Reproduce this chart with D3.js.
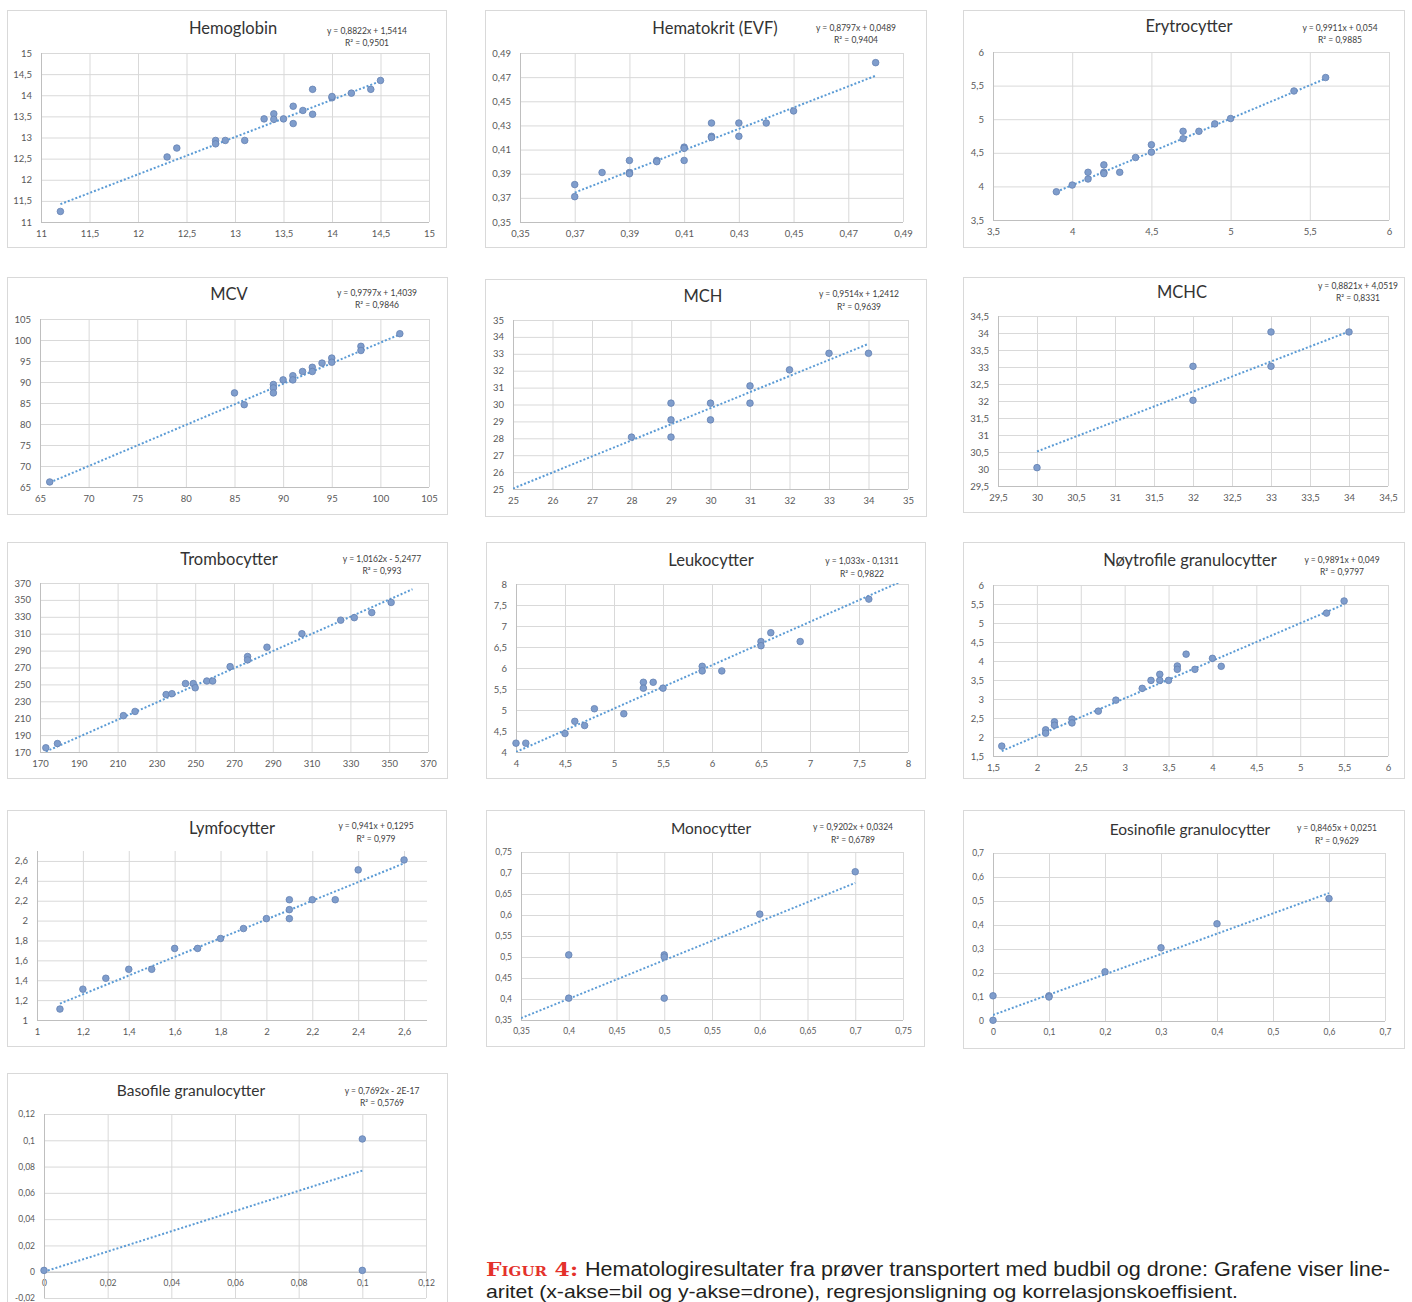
<!DOCTYPE html>
<html>
<head>
<meta charset="utf-8">
<script src="https://cdn.jsdelivr.net/npm/d3@7"></script>
<style>
  body { margin: 0; background: #fff; overflow: hidden; }
  text { font-family: Lato, "Open Sans", sans-serif; }
</style>
</head>
<body>
<svg id="chart" width="1412" height="1302"></svg>
<script>
// chart titles and the trendline labels printed on each panel
const titles = ['Hemoglobin', 'Hematokrit (EVF)', 'Erytrocytter', 'MCV', 'MCH', 'MCHC',
  'Trombocytter', 'Leukocytter', 'Nøytrofile granulocytter', 'Lymfocytter', 'Monocytter',
  'Eosinofile granulocytter', 'Basofile granulocytter'];
const equations = ['y = 0,8822x + 1,5414', 'y = 0,8797x + 0,0489', 'y = 0,9911x + 0,054',
  'y = 0,9797x + 1,4039', 'y = 0,9514x + 1,2412', 'y = 0,8821x + 4,0519', 'y = 1,0162x - 5,2477',
  'y = 1,033x - 0,1311', 'y = 0,9891x + 0,049', 'y = 0,941x + 0,1295', 'y = 0,9202x + 0,0324',
  'y = 0,8465x + 0,0251', 'y = 0,7692x - 2E-17'];
const r2Labels = ['R² = 0,9501', 'R² = 0,9404', 'R² = 0,9885', 'R² = 0,9846', 'R² = 0,9639',
  'R² = 0,8331', 'R² = 0,993', 'R² = 0,9822', 'R² = 0,9797', 'R² = 0,979', 'R² = 0,6789',
  'R² = 0,9629', 'R² = 0,5769'];
const slopes = [0.8822, 0.8797, 0.9911, 0.9797, 0.9514, 0.8821, 1.0162, 1.033, 0.9891, 0.941, 0.9202, 0.8465, 0.7692];
const intercepts = [1.5414, 0.0489, 0.054, 1.4039, 1.2412, 4.0519, -5.2477, -0.1311, 0.049, 0.1295, 0.0324, 0.0251, 0];
const trendRanges = [[11.2, 14.5], [0.37, 0.48], [3.9, 5.6], [66, 102], [25, 34], [30, 34],
  [173, 362], [4, 8], [1.6, 5.5], [1.1, 2.6], [0.35, 0.7], [0, 0.6], [0, 0.1]];

// axis ranges and tick steps
const xDomains = [[11, 15], [0.35, 0.49], [3.5, 6], [65, 105], [25, 35], [29.5, 34.5],
  [170, 370], [4, 8], [1.5, 6], [1, 2.7], [0.35, 0.75], [0, 0.7], [0, 0.12]];
const yDomains = [[11, 15], [0.35, 0.49], [3.5, 6], [65, 105], [25, 35], [29.5, 34.5],
  [170, 370], [4, 8], [1.5, 6], [1, 2.7], [0.35, 0.75], [0, 0.7], [-0.02, 0.12]];
const tickSteps = [0.5, 0.02, 0.5, 5, 1, 0.5, 20, 0.5, 0.5, 0.2, 0.05, 0.1, 0.02];

// [bil, drone]
const hemoglobin = [[11.2, 11.25], [12.3, 12.54], [12.4, 12.75], [12.8, 12.93], [12.8, 12.85], [12.9, 12.93],
  [13.1, 12.93], [13.3, 13.44], [13.4, 13.56], [13.4, 13.43], [13.5, 13.44], [13.6, 13.74], [13.6, 13.33],
  [13.7, 13.64], [13.8, 14.14], [13.8, 13.55], [14.0, 13.94], [14.0, 13.97], [14.2, 14.05], [14.4, 14.14], [14.5, 14.35]];
const hematokrit = [[0.37, 0.381], [0.37, 0.371], [0.38, 0.391], [0.39, 0.401], [0.39, 0.391], [0.39, 0.390],
  [0.40, 0.401], [0.40, 0.400], [0.41, 0.412], [0.41, 0.411], [0.41, 0.401], [0.42, 0.432], [0.42, 0.421],
  [0.42, 0.420], [0.43, 0.432], [0.43, 0.421], [0.44, 0.432], [0.45, 0.442], [0.48, 0.482]];
const erytrocytter = [[3.9, 3.92], [4.0, 4.02], [4.1, 4.21], [4.1, 4.11], [4.2, 4.32], [4.2, 4.21], [4.2, 4.19],
  [4.3, 4.21], [4.4, 4.43], [4.5, 4.62], [4.5, 4.51], [4.7, 4.82], [4.7, 4.71], [4.8, 4.82], [4.9, 4.93],
  [5.0, 5.01], [5.4, 5.42], [5.6, 5.62]];
const mcv = [[66, 66.2], [85, 87.4], [86, 84.6], [89, 89.4], [89, 88.6], [89, 87.4], [90, 90.5], [91, 91.5],
  [91, 90.5], [92, 92.5], [93, 93.5], [93, 92.5], [94, 94.5], [95, 95.7], [95, 94.7], [98, 98.5], [98, 97.5], [102, 101.5]];
const mch = [[28, 28.07], [29, 30.08], [29, 29.09], [29, 28.07], [30, 30.08], [30, 29.09], [31, 31.1],
  [31, 30.08], [32, 32.05], [33, 33.03], [34, 33.03]];
const mchc = [[30, 30.04], [32, 33.02], [32, 32.02], [33, 34.03], [33, 33.02], [34, 34.03]];
const trombocytter = [[173, 175], [179, 180], [213, 213], [219, 218], [235, 238], [238, 239], [245, 251],
  [249, 251], [250, 246], [256, 254], [259, 254], [268, 271], [277, 283], [277, 279], [287, 294], [305, 310],
  [325, 326], [332, 329], [341, 335], [351, 347]];
const leukocytter = [[4.0, 4.21], [4.1, 4.21], [4.5, 4.44], [4.6, 4.73], [4.7, 4.63], [4.8, 5.03], [5.1, 4.91],
  [5.3, 5.66], [5.3, 5.52], [5.4, 5.66], [5.5, 5.52], [5.9, 6.04], [5.9, 5.93], [6.1, 5.93], [6.5, 6.63],
  [6.5, 6.53], [6.6, 6.84], [6.9, 6.63], [7.6, 7.64]];
const noytrofile = [[1.6, 1.76], [2.1, 2.19], [2.1, 2.1], [2.2, 2.4], [2.2, 2.31], [2.4, 2.47], [2.4, 2.37],
  [2.7, 2.68], [2.9, 2.97], [3.2, 3.28], [3.3, 3.49], [3.4, 3.65], [3.4, 3.49], [3.5, 3.49], [3.6, 3.87],
  [3.6, 3.78], [3.7, 4.18], [3.8, 3.78], [4.0, 4.07], [4.1, 3.86], [5.3, 5.26], [5.5, 5.58]];
const lymfocytter = [[1.1, 1.11], [1.2, 1.31], [1.3, 1.42], [1.4, 1.51], [1.5, 1.51], [1.6, 1.72], [1.7, 1.72],
  [1.8, 1.82], [1.9, 1.92], [2.0, 2.02], [2.1, 2.21], [2.1, 2.11], [2.1, 2.02], [2.2, 2.21], [2.3, 2.21],
  [2.4, 2.51], [2.6, 2.61]];
const monocytter = [[0.4, 0.505], [0.4, 0.402], [0.5, 0.505], [0.5, 0.5], [0.5, 0.402], [0.6, 0.602], [0.7, 0.703]];
const eosinofile = [[0, 0.105], [0, 0.003], [0.1, 0.105], [0.1, 0.1], [0.2, 0.205], [0.3, 0.305], [0.4, 0.405], [0.6, 0.51]];
const basofile = [[0, 0.001], [0.1, 0.101], [0.1, 0.001]];

const seriesPoints = [hemoglobin, hematokrit, erytrocytter, mcv, mch, mchc, trombocytter,
  leukocytter, noytrofile, lymfocytter, monocytter, eosinofile, basofile];

const captionLabel = 'Figur 4:';
const captionLines = ['Hematologiresultater fra prøver transportert med budbil og drone: Grafene viser line-',
  'aritet (x-akse=bil og y-akse=drone), regresjonsligning og korrelasjonskoeffisient.'];

// panel placement: box [x0,y0,x1,y1], plot [l,t,r,b], title [cx,baseline], eq [cx,baseline], r2 baseline
const layout = [
  { box: [7, 10, 446, 247], plot: [41, 53, 429, 222], title: [233, 34], eq: [367, 34], r2: 46 },
  { box: [485, 10, 926, 247], plot: [520, 53, 903, 222], title: [715, 34], eq: [856, 31], r2: 43 },
  { box: [963, 10, 1404, 247], plot: [993, 52, 1389, 220], title: [1189, 32], eq: [1340, 31], r2: 43 },
  { box: [7, 277, 447, 514], plot: [40, 319, 429, 487], title: [229, 300], eq: [377, 296], r2: 308 },
  { box: [485, 279, 926, 516], plot: [513, 320, 908, 489], title: [703, 302], eq: [859, 297], r2: 310 },
  { box: [963, 277, 1404, 512], plot: [998, 316, 1388, 486], title: [1182, 298], eq: [1358, 289], r2: 301 },
  { box: [7, 542, 447, 778], plot: [40, 583, 428, 752], title: [229, 565], eq: [382, 562], r2: 574 },
  { box: [486, 542, 925, 778], plot: [516, 584, 908, 752], title: [711, 566], eq: [862, 564], r2: 577 },
  { box: [963, 542, 1404, 778], plot: [993, 585, 1388, 756], title: [1190, 566], eq: [1342, 563], r2: 575 },
  { box: [7, 810, 446, 1046], plot: [37, 851, 427, 1020], title: [232, 834], eq: [376, 829], r2: 842 },
  { box: [486, 810, 924, 1046], plot: [521, 852, 903, 1020], title: [711, 834], eq: [853, 830], r2: 843, small: true },
  { box: [963, 810, 1404, 1048], plot: [993, 853, 1385, 1021], title: [1190, 835], eq: [1337, 831], r2: 844, small: true },
  { box: [7, 1073, 447, 1320], plot: [44, 1114, 426, 1298], title: [191, 1096], eq: [382, 1094], r2: 1106, small: true }
];

const svg = d3.select('#chart');

function makeTicks(dom, step) {
  const out = [];
  for (let i = 0; dom[0] + i * step <= dom[1] + 1e-9; i++) {
    out.push(Math.round((dom[0] + i * step) * 1e6) / 1e6);
  }
  return out;
}
const fmt = v => String(v).replace('.', ',');

layout.forEach((p, i) => {
  const [L, T, R, B] = p.plot;
  const x = d3.scaleLinear().domain(xDomains[i]).range([L, R]);
  const y = d3.scaleLinear().domain(yDomains[i]).range([B, T]);
  const xt = makeTicks(xDomains[i], tickSteps[i]);
  const yt = makeTicks(yDomains[i], tickSteps[i]);
  const tickFont = p.small ? 8.5 : 9.5;

  const g = svg.append('g').attr('class', 'panel');

  g.append('rect')
    .attr('x', p.box[0] + 0.5).attr('y', p.box[1] + 0.5)
    .attr('width', p.box[2] - p.box[0]).attr('height', p.box[3] - p.box[1])
    .attr('fill', '#fff').attr('stroke', '#d9d9d9');

  // gridlines
  g.append('g')
    .attr('transform', 'translate(0,' + B + ')')
    .call(d3.axisBottom(x).tickValues(xt).tickSize(-(B - T)).tickFormat(''))
    .call(a => a.select('.domain').remove())
    .selectAll('line').attr('stroke', '#d9d9d9');
  g.append('g')
    .attr('transform', 'translate(' + L + ',0)')
    .call(d3.axisLeft(y).tickValues(yt).tickSize(-(R - L)).tickFormat(''))
    .call(a => a.select('.domain').remove())
    .selectAll('line').attr('stroke', '#d9d9d9');

  // axis lines + labels
  const xAxisY = yDomains[i][0] < 0 ? y(0) : B;
  const xa = g.append('g')
    .attr('transform', 'translate(0,' + xAxisY + ')')
    .call(d3.axisBottom(x).tickValues(xt).tickSize(0).tickSizeOuter(0).tickPadding(8).tickFormat(fmt));
  xa.select('.domain').attr('stroke', '#bfbfbf').attr('d', 'M' + L + ',0.5H' + R);
  xa.selectAll('text').attr('fill', '#595959').style('font-size', tickFont + 'px');

  const ya = g.append('g')
    .attr('transform', 'translate(' + L + ',0)')
    .call(d3.axisLeft(y).tickValues(yt).tickSize(0).tickSizeOuter(0).tickPadding(9).tickFormat(fmt));
  ya.select('.domain').attr('stroke', '#bfbfbf').attr('d', 'M0.5,' + T + 'V' + B);
  ya.selectAll('text').attr('fill', '#595959').style('font-size', tickFont + 'px');

  // trendline
  const clipId = 'clip' + i;
  g.append('clipPath').attr('id', clipId)
    .append('rect').attr('x', L).attr('y', T - 1).attr('width', R - L).attr('height', B - T + 1);
  const tr = trendRanges[i];
  g.append('line')
    .attr('clip-path', 'url(#' + clipId + ')')
    .attr('x1', x(tr[0])).attr('y1', y(slopes[i] * tr[0] + intercepts[i]))
    .attr('x2', x(tr[1])).attr('y2', y(slopes[i] * tr[1] + intercepts[i]))
    .attr('stroke', '#5b9bd5').attr('stroke-width', 2).attr('stroke-dasharray', '2,2');

  // points
  g.append('g').selectAll('circle')
    .data(seriesPoints[i])
    .enter().append('circle')
    .attr('cx', d => x(d[0]))
    .attr('cy', d => y(d[1]))
    .attr('r', 3.3)
    .attr('fill', '#7f9dcc')
    .attr('stroke', '#6482b2')
    .attr('stroke-width', 0.8);

  // texts
  g.append('text')
    .attr('x', p.title[0]).attr('y', p.title[1])
    .attr('text-anchor', 'middle')
    .attr('fill', '#333')
    .style('font-size', (p.small ? 15.5 : 16.5) + 'px')
    .text(titles[i]);
  g.append('text')
    .attr('x', p.eq[0]).attr('y', p.eq[1])
    .attr('text-anchor', 'middle').attr('fill', '#404040')
    .style('font-size', '8.5px')
    .text(equations[i]);
  g.append('text')
    .attr('x', p.eq[0]).attr('y', p.r2)
    .attr('text-anchor', 'middle').attr('fill', '#404040')
    .style('font-size', '8.5px')
    .text(r2Labels[i]);
});

// figure caption
svg.append('text')
  .attr('x', 486).attr('y', 1276)
  .attr('fill', '#e4312b')
  .attr('textLength', 92).attr('lengthAdjust', 'spacingAndGlyphs')
  .style('font-family', '"DejaVu Serif", serif')
  .style('font-weight', 'bold')
  .style('font-variant', 'small-caps')
  .style('font-size', '19px')
  .text(captionLabel);
svg.append('text')
  .attr('x', 585).attr('y', 1276)
  .attr('fill', '#231f20')
  .attr('textLength', 805).attr('lengthAdjust', 'spacingAndGlyphs')
  .style('font-family', '"Liberation Sans", Arial, sans-serif')
  .style('font-size', '19.5px')
  .text(captionLines[0]);
svg.append('text')
  .attr('x', 486).attr('y', 1298)
  .attr('fill', '#231f20')
  .attr('textLength', 752).attr('lengthAdjust', 'spacingAndGlyphs')
  .style('font-family', '"Liberation Sans", Arial, sans-serif')
  .style('font-size', '18.5px')
  .text(captionLines[1]);
</script>
</body>
</html>
